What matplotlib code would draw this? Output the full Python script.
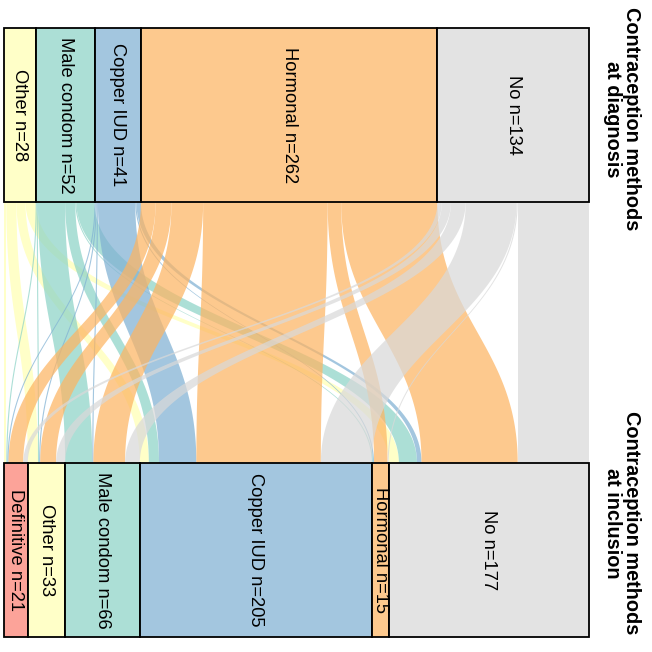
import numpy as np
import matplotlib
matplotlib.use("Agg")
import matplotlib.pyplot as plt
from matplotlib.patches import Rectangle, Polygon

plt.rcParams['font.family'] = ['Liberation Sans', 'DejaVu Sans']

# ---- data ----
top_title = "Contraception methods\nat diagnosis"
bottom_title = "Contraception methods\nat inclusion"
top_cats = ["Other", "Male condom", "Copper IUD", "Hormonal", "No"]
bottom_cats = ["Definitive", "Other", "Male condom", "Copper IUD", "Hormonal", "No"]
# flows[i][j] : patients with top category i (diagnosis) -> bottom category j (inclusion)
flow_other    = [2, 9, 0, 8, 0, 9]
flow_male     = [1, 1, 24, 9, 1, 16]
flow_copper   = [1, 1, 1, 33, 1, 4]
flow_hormonal = [13, 14, 28, 110, 12, 85]
flow_no       = [4, 8, 13, 45, 1, 63]
flows = np.array([flow_other, flow_male, flow_copper, flow_hormonal, flow_no])

colors = {
    "Definitive": "#FB8072",
    "Other": "#FFFFB3",
    "Male condom": "#8DD3C7",
    "Copper IUD": "#80B1D3",
    "Hormonal": "#FDB462",
    "No": "#D9D9D9",
}
alpha = 0.72

top_tot = flows.sum(axis=1)
bot_tot = flows.sum(axis=0)
N = flows.sum()

fig = plt.figure(figsize=(6.52, 6.52), dpi=100)
ax = fig.add_axes([0, 0, 1, 1])
# pixel mapping: x data 0..N -> px 4..589 ; y=1 -> px 115 ; y=2 -> px 550
sx = 585.0 / N
ax.set_xlim(-4 / sx, (652 - 4) / sx)
ax.set_ylim(1 + (652 - 115) / 435.0, 1 - 115 / 435.0)
ax.axis("off")

hw = 0.2
y_top, y_bot = 1.0, 2.0

top_start = np.concatenate([[0], np.cumsum(top_tot)[:-1]])
bot_start = np.concatenate([[0], np.cumsum(bot_tot)[:-1]])

# lode positions
top_off = np.zeros_like(flows, dtype=float)
for i in range(flows.shape[0]):
    acc = top_start[i]
    for j in range(flows.shape[1]):
        top_off[i, j] = acc
        acc += flows[i, j]
bot_off = np.zeros_like(flows, dtype=float)
for j in range(flows.shape[1]):
    acc = bot_start[j]
    for i in range(flows.shape[0]):
        bot_off[i, j] = acc
        acc += flows[i, j]

t = np.linspace(0, 1, 80)
y0 = y_top + hw
y1 = y_bot - hw
k = 0.45
h = y1 - y0
def bez(p0, p1, p2, p3):
    return ((1 - t) ** 3) * p0 + 3 * ((1 - t) ** 2) * t * p1 + 3 * (1 - t) * t ** 2 * p2 + t ** 3 * p3

yy = bez(y0, y0 + k * h, y1 - k * h, y1)
for i in range(flows.shape[0]):
    for j in range(flows.shape[1]):
        v = flows[i, j]
        if v <= 0:
            continue
        xa0, xb0 = top_off[i, j], bot_off[i, j]
        xa1, xb1 = xa0 + v, xb0 + v
        left = bez(xa0, xa0, xb0, xb0)
        right = bez(xa1, xa1, xb1, xb1)
        pts = np.vstack([np.column_stack([left, yy]), np.column_stack([right[::-1], yy[::-1]])])
        ax.add_patch(Polygon(pts, closed=True, facecolor=colors[top_cats[i]],
                             edgecolor="none", alpha=alpha, lw=0))

# strata
def draw_strata(cats, starts, totals, yc):
    for c, s, v in zip(cats, starts, totals):
        ax.add_patch(Rectangle((s, yc - hw), v, 2 * hw, facecolor=colors[c], alpha=alpha,
                               edgecolor="none"))
        ax.add_patch(Rectangle((s, yc - hw), v, 2 * hw, facecolor="none",
                               edgecolor="black", lw=1.3))
        ax.text(s + v / 2, yc, f"{c} n={v}", rotation=-90, ha="center", va="center",
                fontsize=13.2, color="black")

draw_strata(top_cats, top_start, top_tot, y_top)
draw_strata(bottom_cats, bot_start, bot_tot, y_bot)

tx = (622 - 4) / sx
ax.text(tx, 1 + (119 - 115) / 435.0, top_title, rotation=-90, ha="center", va="center",
        fontsize=14.3, fontweight="bold", linespacing=1.0, multialignment="center")
ax.text(tx, 1 + (523 - 115) / 435.0, bottom_title, rotation=-90, ha="center", va="center",
        fontsize=14.3, fontweight="bold", linespacing=1.0, multialignment="center")

fig.savefig("out.png", dpi=100)
